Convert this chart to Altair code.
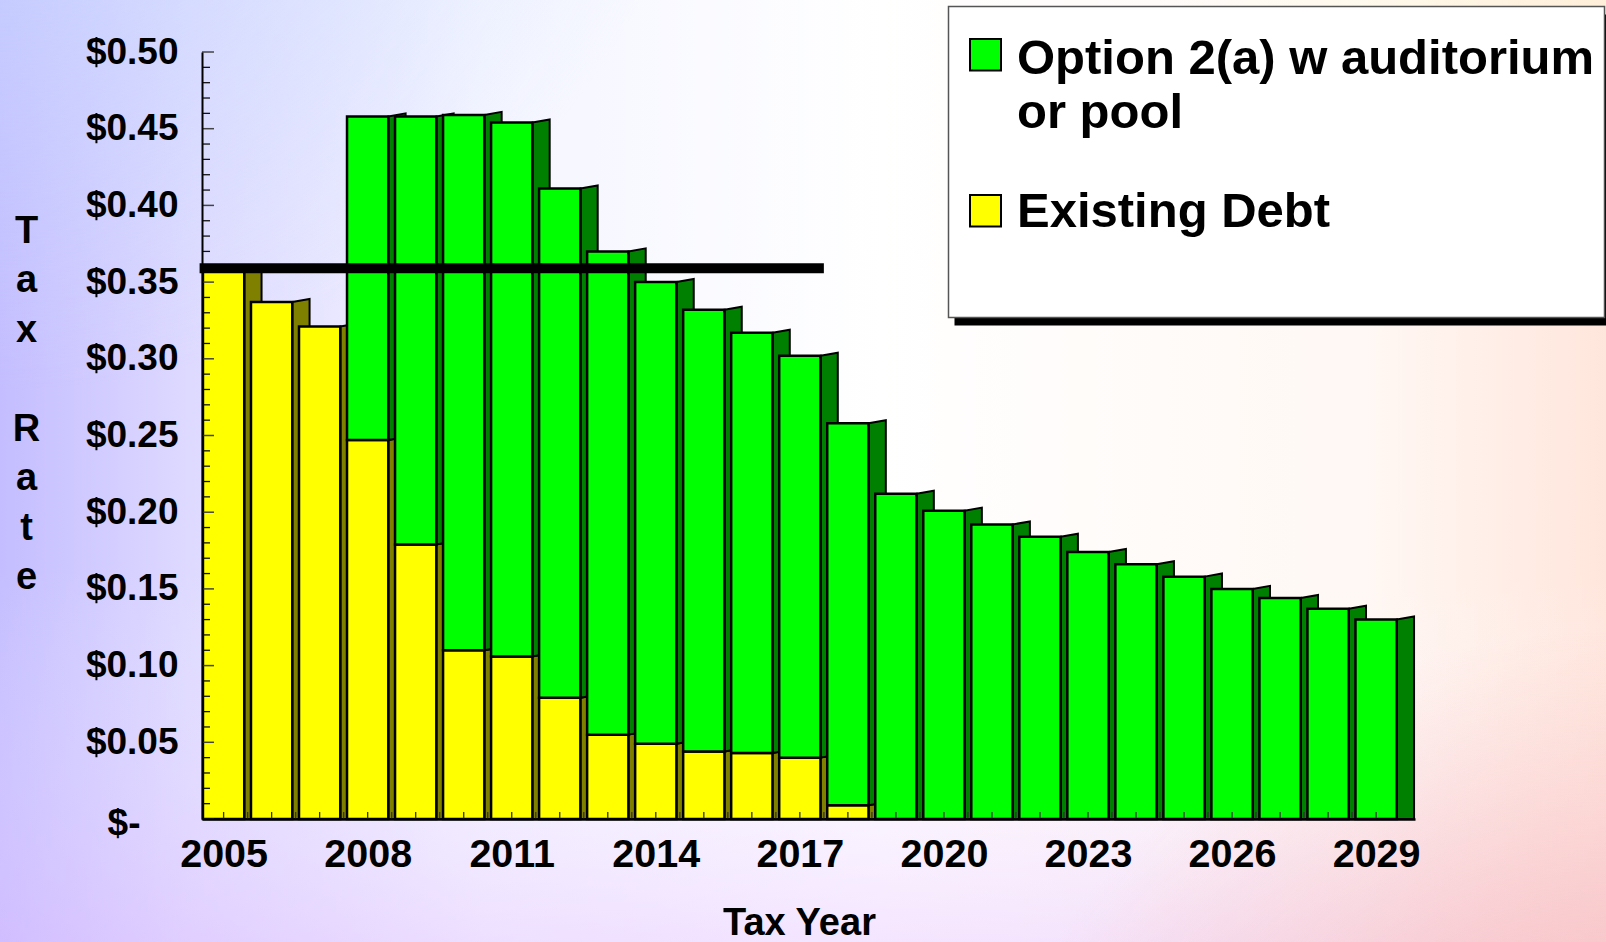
import altair as alt
import pandas as pd

# ---- values -------------------------------------------------------------
years = [2005, 2006, 2007, 2008, 2009, 2010, 2011, 2012, 2013, 2014, 2015, 2016,
         2017, 2018, 2019, 2020, 2021, 2022, 2023, 2024, 2025, 2026, 2027, 2028, 2029]
existing_debt = [0.358, 0.337, 0.321, 0.247, 0.179, 0.110, 0.106, 0.079, 0.055,
                 0.049, 0.044, 0.043, 0.040, 0.009, 0.000, 0.000, 0.000, 0.000,
                 0.000, 0.000, 0.000, 0.000, 0.000, 0.000, 0.000]
option_2a = [0.000, 0.000, 0.000, 0.211, 0.279, 0.349, 0.348, 0.332, 0.315,
             0.301, 0.288, 0.274, 0.262, 0.249, 0.212, 0.201, 0.192, 0.184,
             0.174, 0.166, 0.158, 0.150, 0.144, 0.137, 0.130]
series_names = ["Option 2(a) w auditorium or pool", "Existing Debt"]
x_label_years = [2005, 2008, 2011, 2014, 2017, 2020, 2023, 2026, 2029]
y_label_values = [0.0, 0.05, 0.10, 0.15, 0.20, 0.25, 0.30, 0.35, 0.40, 0.45, 0.50]
current_rate = 0.359
current_rate_span = [2004.5, 2017.5]

# ---- geometry of the pseudo-3D bars (in data units) ------------------------
FRONT_HALF = 0.43     # half width of the front face
BACK_EDGE = 0.79      # where the side face ends, right of the year
DEPTH_RISE = 0.002    # how much the back edge is lifted

W, H = 1213, 767
PAD = {"left": 202, "top": 52, "right": 1606 - 202 - W, "bottom": 942 - 52 - H}
FONT = "Liberation Sans"

OPT, EXI = series_names[0], series_names[1]

segments = []
for yr, ex, op in zip(years, existing_debt, option_2a):
    if ex > 0:
        segments.append({"year": yr, "series": EXI, "low": 0.0, "high": ex})
    if op > 0:
        segments.append({"year": yr, "series": OPT, "low": ex, "high": ex + op})
seg = pd.DataFrame(segments)
seg["x0"] = seg["year"] - FRONT_HALF
seg["x1"] = seg["year"] + FRONT_HALF

side_rows = []
for s in segments:
    key = f"{s['series']}-{s['year']}"
    lift_low = DEPTH_RISE if s["low"] > 0 else 0.0
    side_rows.append({"key": key, "series": s["series"], "x": s["year"] + FRONT_HALF,
                      "top": s["high"], "bottom": s["low"]})
    side_rows.append({"key": key, "series": s["series"], "x": s["year"] + BACK_EDGE,
                      "top": s["high"] + DEPTH_RISE, "bottom": s["low"] + lift_low})
sides = pd.DataFrame(side_rows)

xs = alt.Scale(domain=[2004.55, 2029.81], nice=False, zero=False)
ys = alt.Scale(domain=[0, 0.5], nice=False)

x_axis = alt.Axis(
    values=x_label_years, format="d", title="Tax Year",
    labelFont=FONT, labelFontSize=39.5, labelFontWeight="bold", labelColor="black",
    labelBaseline="alphabetic", labelPadding=47, labelFlush=False, labelOverlap=False,
    ticks=False, tickSize=0, grid=False,
    domainColor="black", domainWidth=2.5,
    titleFont=FONT, titleFontSize=38, titleFontWeight="bold", titleColor="black",
    titleX=597, titleY=115, titleBaseline="alphabetic", titleAlign="center",
    zindex=1,
)
y_axis = alt.Axis(
    values=y_label_values,
    labelExpr="datum.value == 0 ? '$-' : '$' + format(datum.value, '.2f')",
    labelFont=FONT, labelFontSize=37, labelFontWeight="bold", labelColor="black",
    labelAlign="right", labelBaseline="middle",
    labelPadding={"condition": {"test": "datum.value === 0", "value": 62}, "value": 24},
    labelOffset={"condition": {"test": "datum.value === 0", "value": 4}, "value": 0},
    labelFlush=False,
    ticks=False, tickSize=0, grid=False,
    domainColor="black", domainWidth=2,
    # one letter per line, with an empty line between the two words
    title=["T", "a", "x", "\u200b", "R", "a", "t", "e"],
    titleFont=FONT, titleFontSize=38, titleFontWeight="bold", titleColor="black",
    titleAngle=0, titleAlign="center", titleBaseline="alphabetic",
    titleLineHeight=49.5, titleX=-176, titleY=190,
    zindex=1,
)


def X(field):
    return alt.X(field, scale=xs, axis=x_axis)


def Y(field, **kw):
    return alt.Y(field, scale=ys, axis=y_axis, **kw)


one = pd.DataFrame({"k": [0]})

# ---- background ---------------------------------------------------------
bg_full = dict(x=alt.value(-PAD["left"]), x2=alt.value(W + PAD["right"]),
               y=alt.value(-PAD["top"]), y2=alt.value(H + PAD["bottom"]))


def bg(fill):
    return alt.Chart(one).mark_rect(fill=fill).encode(**bg_full)


bg1 = bg({
    "gradient": "linear", "x1": 0, "y1": 0, "x2": 1, "y2": 0,
    "stops": [
        {"offset": 0.0, "color": "#c4bdff"},
        {"offset": 0.12, "color": "#dedaff"},
        {"offset": 0.3, "color": "#f4f5ff"},
        {"offset": 0.55, "color": "#ffffff"},
        {"offset": 0.85, "color": "#fff8f4"},
        {"offset": 1.0, "color": "#ffe6dc"},
    ]})
bg2 = bg({
    "gradient": "linear", "x1": 0, "y1": 0, "x2": 0, "y2": 1,
    "stops": [
        {"offset": 0.0, "color": "rgba(255,255,255,0)"},
        {"offset": 0.6, "color": "rgba(255,255,255,0)"},
        {"offset": 1.0, "color": "rgba(228,190,255,0.4)"},
    ]})
bg3 = bg({
    "gradient": "radial", "x1": 0, "y1": 0, "r1": 0, "x2": 0, "y2": 0, "r2": 0.45,
    "stops": [
        {"offset": 0.0, "color": "rgba(200,222,255,0.8)"},
        {"offset": 1.0, "color": "rgba(200,222,255,0)"},
    ]})
bg4 = bg({
    "gradient": "radial", "x1": 1, "y1": 0, "r1": 0, "x2": 1, "y2": 0, "r2": 0.35,
    "stops": [
        {"offset": 0.0, "color": "rgba(255,255,215,0.9)"},
        {"offset": 1.0, "color": "rgba(255,255,215,0)"},
    ]})
bg5 = bg({
    "gradient": "radial", "x1": 1, "y1": 1, "r1": 0, "x2": 1, "y2": 1, "r2": 0.4,
    "stops": [
        {"offset": 0.0, "color": "rgba(255,180,160,0.85)"},
        {"offset": 1.0, "color": "rgba(255,180,160,0)"},
    ]})


# ---- bars: side faces first, then front faces ----------------------------
def side_layer(name, color):
    return alt.Chart(sides).transform_filter(
        alt.datum.series == name
    ).mark_area(fill=color, stroke="black", strokeWidth=2, strokeJoin="miter").encode(
        x=X("x:Q"),
        y=Y("top:Q", stack=None),
        y2="bottom:Q",
        detail="key:N",
    )


def front_layer(name, color):
    return alt.Chart(seg).transform_filter(
        alt.datum.series == name
    ).mark_rect(fill=color, stroke="black", strokeWidth=2.5).encode(
        x=X("x0:Q"), x2="x1:Q",
        y=Y("low:Q"), y2="high:Q",
    )


# ---- inward tick marks ---------------------------------------------------
xt = pd.DataFrame({"x": years + [y + 0.5 for y in years[:-1]]})
x_ticks = alt.Chart(xt).mark_rule(color="#333333", strokeWidth=1.3).encode(
    x=X("x:Q"), y=alt.value(H), y2=alt.value(H - 7))

major = pd.DataFrame({"v": y_label_values})
minor = pd.DataFrame({"v": [i / 100 for i in range(1, 50) if i % 5 != 0]})
y_major = alt.Chart(major).mark_rule(color="#444444", strokeWidth=1.5).encode(
    y=Y("v:Q"), x=alt.value(0), x2=alt.value(12))
y_minor = alt.Chart(minor).mark_rule(color="#111111", strokeWidth=1.3).encode(
    y=Y("v:Q"), x=alt.value(0), x2=alt.value(8))

# ---- current tax rate line ------------------------------------------------
rate = pd.DataFrame({"x": [current_rate_span[0]], "x2": [current_rate_span[1]],
                     "y": [current_rate]})
rate_line = alt.Chart(rate).mark_rule(color="black", strokeWidth=10).encode(
    x=X("x:Q"), x2="x2:Q", y=Y("y:Q"))

# ---- legend box -----------------------------------------------------------
LX, LY = 948.5 - PAD["left"], 6.5 - PAD["top"]
LX2, LY2 = 1604.5 - PAD["left"], 317.5 - PAD["top"]

shadow = alt.Chart(one).mark_rect(fill="black").encode(
    x=alt.value(LX + 6), x2=alt.value(LX2 + 6), y=alt.value(LY + 8), y2=alt.value(LY2 + 8))
box = alt.Chart(one).mark_rect(fill="white", stroke="#555555", strokeWidth=1.5).encode(
    x=alt.value(LX), x2=alt.value(LX2), y=alt.value(LY), y2=alt.value(LY2))

SQ_X = 970 - PAD["left"]
sq_green = alt.Chart(one).mark_rect(fill="#00ff00", stroke="black", strokeWidth=2).encode(
    x=alt.value(SQ_X), x2=alt.value(SQ_X + 31), y=alt.value(39 - PAD["top"]),
    y2=alt.value(70.5 - PAD["top"]))
sq_yellow = alt.Chart(one).mark_rect(fill="#ffff00", stroke="black", strokeWidth=2).encode(
    x=alt.value(SQ_X), x2=alt.value(SQ_X + 31), y=alt.value(195 - PAD["top"]),
    y2=alt.value(226.5 - PAD["top"]))

TX = 1017 - PAD["left"]
txt_opt = alt.Chart(one).mark_text(
    text=["Option 2(a) w auditorium", "or pool"], lineHeight=54.3,
    font=FONT, fontSize=49, fontWeight="bold", color="black",
    align="left", baseline="alphabetic").encode(
    x=alt.value(TX), y=alt.value(73.7 - PAD["top"]))
txt_exi = alt.Chart(one).mark_text(
    text=EXI, font=FONT, fontSize=49, fontWeight="bold", color="black",
    align="left", baseline="alphabetic").encode(
    x=alt.value(TX), y=alt.value(227.4 - PAD["top"]))

chart = alt.layer(
    bg1, bg2, bg3, bg4, bg5,
    side_layer(EXI, "#808000"), side_layer(OPT, "#008000"),
    front_layer(EXI, "#ffff00"), front_layer(OPT, "#00ff00"),
    x_ticks, y_major, y_minor, rate_line,
    shadow, box, sq_green, sq_yellow, txt_opt, txt_exi,
).properties(
    width=W, height=H,
    autosize=alt.AutoSizeParams(type="none"),
    padding=PAD,
).configure_view(stroke=None)

chart.save("out.html", embed_options={"renderer": "svg", "actions": False})
